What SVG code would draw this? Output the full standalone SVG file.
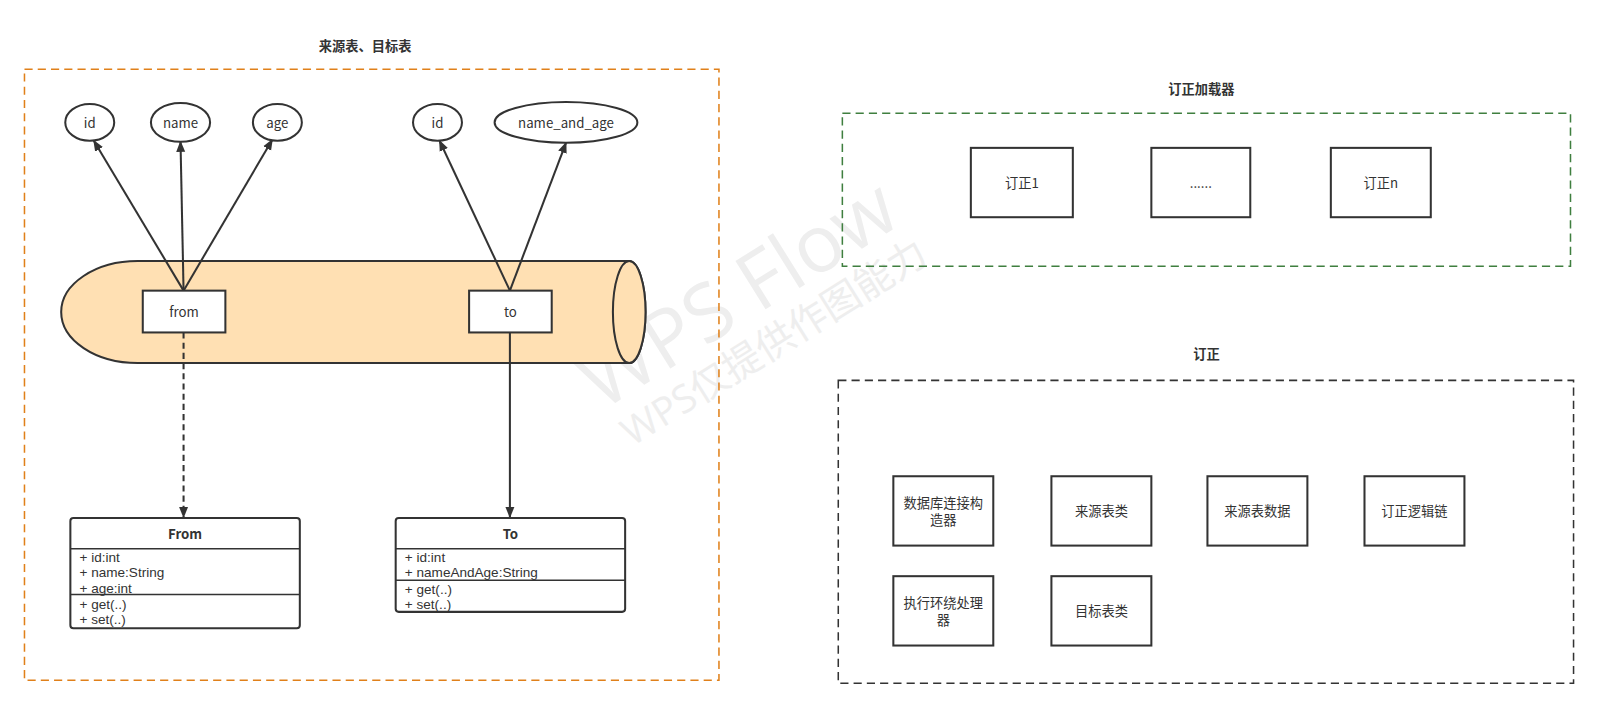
<svg xmlns="http://www.w3.org/2000/svg" width="1599" height="708" viewBox="0 0 1599 708">
<style>
text{font-family:"Noto Sans CJK SC","Liberation Sans",sans-serif;fill:#333;}
.t{font-size:13px;text-anchor:middle;dominant-baseline:central;}
.title{font-size:13px;font-weight:bold;text-anchor:middle;dominant-baseline:central;}
.cls{font-family:"Liberation Sans",Arial,sans-serif;font-size:13.3px;}
.node{fill:#fff;stroke:#333;stroke-width:2;}
.edge{stroke:#333;stroke-width:2;fill:none;}
.div{stroke:#333;stroke-width:1.5;}
.wm{fill:#eeeeee;font-family:"Open Sans","Noto Sans CJK SC",sans-serif;}
</style>
<defs>
<marker id="arr" viewBox="0 0 10 10" refX="9" refY="5" markerWidth="11" markerHeight="11" markerUnits="userSpaceOnUse" orient="auto">
<path d="M0,1 L10,5 L0,9 Z" fill="#333"/>
</marker>
</defs>
<rect width="1599" height="708" fill="#fff"/>
<g transform="scale(1.0198)">

<g id="watermark">
<text class="wm" x="738" y="311" font-size="78" text-anchor="middle" transform="rotate(-32 738 311)">WPS Flow</text>
<text class="wm" x="766" y="347" font-size="38" text-anchor="middle" transform="rotate(-32 766 347)">WPS仅提供作图能力</text>
</g>

<g id="group-source">
<text class="title" x="358" y="45">来源表、目标表</text>
<rect x="24" y="68" width="681" height="599" fill="none" stroke="#e0801a" stroke-width="1.5" stroke-dasharray="8 5"/>
</g>
<g id="group-loader">
<text class="title" x="1178" y="87">订正加载器</text>
<rect x="826" y="111" width="714" height="150" fill="none" stroke="#3f7f3f" stroke-width="1.5" stroke-dasharray="8 5"/>
</g>
<g id="group-fix">
<text class="title" x="1183" y="347">订正</text>
<rect x="822" y="373" width="721" height="297" fill="none" stroke="#333" stroke-width="1.5" stroke-dasharray="8 5"/>
</g>

<g id="cylinder">
<path d="M135,256 L617,256 A16,50 0 0 1 617,356 L135,356 A75,50 0 0 1 135,256 Z" fill="#ffe0b3" stroke="#333" stroke-width="2"/>
<ellipse cx="617" cy="306" rx="16" ry="50" fill="#ffe0b3" stroke="#333" stroke-width="2"/>
</g>

<g id="connectors">
<line class="edge" x1="180" y1="285" x2="92" y2="138" marker-end="url(#arr)"/>
<line class="edge" x1="180" y1="285" x2="177" y2="139" marker-end="url(#arr)"/>
<line class="edge" x1="180" y1="285" x2="267" y2="137" marker-end="url(#arr)"/>
<line class="edge" x1="500" y1="285" x2="431" y2="138" marker-end="url(#arr)"/>
<line class="edge" x1="500" y1="285" x2="555" y2="140" marker-end="url(#arr)"/>
<line class="edge" x1="180" y1="326" x2="180" y2="507" stroke-dasharray="6 4" marker-end="url(#arr)"/>
<line class="edge" x1="500" y1="326" x2="500" y2="507" marker-end="url(#arr)"/>
</g>

<g id="e-id1"><ellipse class="node" cx="88" cy="120" rx="24" ry="18"/><text class="t" x="88" y="120">id</text></g>
<g id="e-name"><ellipse class="node" cx="177" cy="120" rx="29" ry="19"/><text class="t" x="177" y="120">name</text></g>
<g id="e-age"><ellipse class="node" cx="272" cy="120" rx="24" ry="18"/><text class="t" x="272" y="120">age</text></g>
<g id="e-id2"><ellipse class="node" cx="429" cy="120" rx="24" ry="18"/><text class="t" x="429" y="120">id</text></g>
<g id="e-nameage"><ellipse class="node" cx="555" cy="120" rx="70" ry="20"/><text class="t" x="555" y="120">name_and_age</text></g>

<g id="n-from"><rect class="node" x="140" y="285" width="81" height="41"/><text class="t" x="180.5" y="305.5">from</text></g>
<g id="n-to"><rect class="node" x="460" y="285" width="81" height="41"/><text class="t" x="500.5" y="305.5">to</text></g>

<g id="class-From">
<rect class="node" x="69" y="508" width="225" height="108" rx="3"/>
<line class="div" x1="69" y1="538" x2="294" y2="538"/>
<line class="div" x1="69" y1="583" x2="294" y2="583"/>
<text class="t" x="181.5" y="523" font-weight="bold">From</text>
<text class="cls" x="78" y="551">+ id:int</text>
<text class="cls" x="78" y="566">+ name:String</text>
<text class="cls" x="78" y="581">+ age:int</text>
<text class="cls" x="78" y="597">+ get(..)</text>
<text class="cls" x="78" y="612">+ set(..)</text>
</g>
<g id="class-To">
<rect class="node" x="388" y="508" width="225" height="92" rx="3"/>
<line class="div" x1="388" y1="538" x2="613" y2="538"/>
<line class="div" x1="388" y1="569" x2="613" y2="569"/>
<text class="t" x="500.5" y="523" font-weight="bold">To</text>
<text class="cls" x="397" y="551">+ id:int</text>
<text class="cls" x="397" y="566">+ nameAndAge:String</text>
<text class="cls" x="397" y="582">+ get(..)</text>
<text class="cls" x="397" y="597">+ set(..)</text>
</g>

<g id="n-fix1"><rect class="node" x="952" y="145" width="100" height="68"/><text class="t" x="1002" y="179" font-size="12">订正1</text></g>
<g id="n-dots"><rect class="node" x="1129" y="145" width="97" height="68"/><text class="t" x="1177.5" y="179" font-size="12">......</text></g>
<g id="n-fixn"><rect class="node" x="1305" y="145" width="98" height="68"/><text class="t" x="1354" y="179" font-size="12">订正n</text></g>

<g id="n-db"><rect class="node" x="876" y="467" width="98" height="68"/><text class="t" x="925" y="493" font-size="12">数据库连接构</text><text class="t" x="925" y="509" font-size="12">造器</text></g>
<g id="n-srccls"><rect class="node" x="1031" y="467" width="98" height="68"/><text class="t" x="1080" y="501" font-size="12">来源表类</text></g>
<g id="n-srcdata"><rect class="node" x="1184" y="467" width="98" height="68"/><text class="t" x="1233" y="501" font-size="12">来源表数据</text></g>
<g id="n-chain"><rect class="node" x="1338" y="467" width="98" height="68"/><text class="t" x="1387" y="501" font-size="12">订正逻辑链</text></g>
<g id="n-exec"><rect class="node" x="876" y="565" width="98" height="68"/><text class="t" x="925" y="591" font-size="12">执行环绕处理</text><text class="t" x="925" y="607" font-size="12">器</text></g>
<g id="n-tgtcls"><rect class="node" x="1031" y="565" width="98" height="68"/><text class="t" x="1080" y="599" font-size="12">目标表类</text></g>
</g>
</svg>
